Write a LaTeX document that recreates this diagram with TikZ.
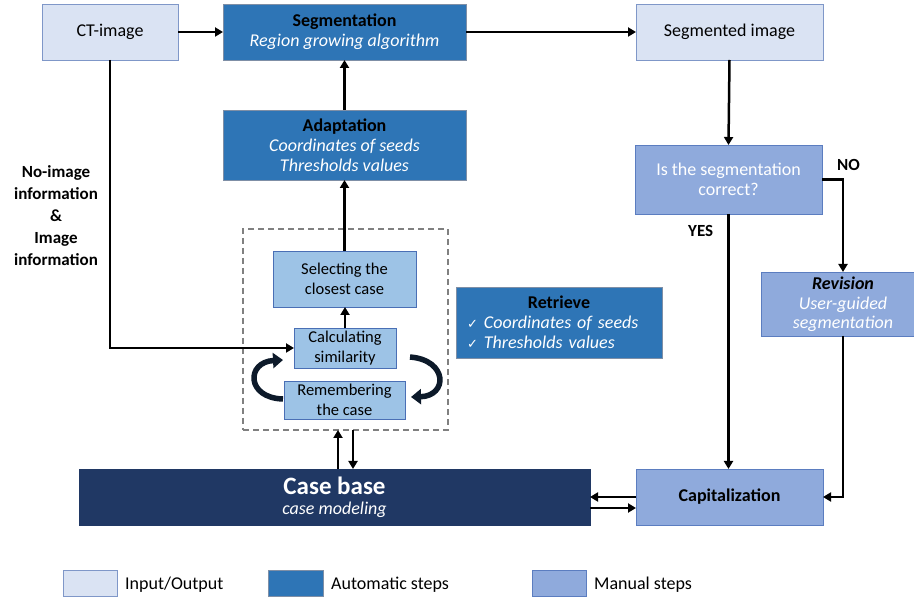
\documentclass[tikz,border=0pt]{standalone}
\usepackage{fontspec}
\setmainfont{Carlito}
\newfontfamily\symfont{DejaVu Sans}
\usetikzlibrary{arrows.meta}
\definecolor{iofill}{HTML}{DAE3F3}
\definecolor{iodraw}{HTML}{7F97C8}
\definecolor{autofill}{HTML}{2E75B6}
\definecolor{autodraw}{HTML}{7F8FA6}
\definecolor{manfill}{HTML}{8FAADC}
\definecolor{mandraw}{HTML}{5B7DC0}
\definecolor{innerfill}{HTML}{9DC3E6}
\definecolor{innerdraw}{HTML}{4A6FB5}
\definecolor{cbfill}{HTML}{203864}
\definecolor{curvecol}{HTML}{0D1A2A}
\tikzset{
  box/.style={rectangle, inner sep=0pt, outer sep=0pt, line width=0.9pt, align=center,
    font=\fontsize{18}{20}\selectfont},
  iobox/.style={box, fill=iofill, draw=iodraw},
  autobox/.style={box, fill=autofill, draw=autodraw},
  manbox/.style={box, fill=manfill, draw=mandraw},
  innerbox/.style={box, fill=innerfill, draw=innerdraw, font=\fontsize{16.5}{19.5}\selectfont},
  arr/.style={line width=2.5pt, -{Triangle[length=8pt,width=9pt]}},
  curv/.style={line width=5.5pt, color=curvecol, -{Triangle[length=10pt,width=15pt]}},
  lbl/.style={font=\fontsize{17}{22}\selectfont\bfseries, align=center, inner sep=0pt},
  legtext/.style={font=\fontsize{18}{20}\selectfont, anchor=west, inner sep=0pt}
}
\begin{document}
\begin{tikzpicture}[x=1pt,y=-1pt]
\useasboundingbox (0,0) rectangle (914,601);
% main nodes
\node[iobox, minimum width=136pt, minimum height=56pt] (ct) at (110,32) {CT-image};
\node[autobox, minimum width=243pt, minimum height=56pt] (seg) at (344.5,32)
  {\textbf{Segmentation}\\\textcolor{white}{\itshape Region growing algorithm}};
\node[iobox, minimum width=187pt, minimum height=56pt] (segd) at (729.5,32) {Segmented image};
\node[autobox, minimum width=243pt, minimum height=70pt] (adapt) at (344.5,145)
  {\textbf{Adaptation}\\\textcolor{white}{\itshape Coordinates of seeds}\\\textcolor{white}{\itshape Thresholds values}};
\node[manbox, minimum width=187pt, minimum height=69pt, text=white] (corr) at (728.5,179.5)
  {Is the segmentation\\correct?};
\node[manbox, minimum width=164pt, minimum height=64pt] (rev) at (843,304)
  {\textbf{\itshape Revision}\\\textcolor{white}{\itshape User-guided}\\[-1pt]\textcolor{white}{\itshape segmentation}};
\node[autobox, minimum width=206pt, minimum height=71pt, text width=184pt, align=left] (retr) at (559,322.5)
  {\makebox[\linewidth]{\textbf{Retrieve}}\\
   \textcolor{white}{{\symfont\fontsize{13}{20}\selectfont ✓}\hspace{6pt}\itshape Coordinates of seeds}\\
   \textcolor{white}{{\symfont\fontsize{13}{20}\selectfont ✓}\hspace{6pt}\itshape Thresholds values}};
\node[rectangle, draw=gray, line width=1.4pt, dash pattern=on 6pt off 4pt,
  minimum width=205pt, minimum height=201pt, inner sep=0pt, outer sep=0pt] (dash) at (345.5,329.5) {};
\node[innerbox, minimum width=143pt, minimum height=56pt] (sel) at (344.5,279) {Selecting the\\closest case};
\node[innerbox, minimum width=102pt, minimum height=40pt] (calc) at (345,348) {Calculating\\similarity};
\node[innerbox, minimum width=121pt, minimum height=38pt] (rem) at (344.5,400) {Remembering\\the case};
\node[box, fill=cbfill, draw=cbfill, minimum width=511pt, minimum height=56pt, text=white] (cb) at (334.5,497)
  {{\fontsize{25}{26}\selectfont\bfseries Case base}\\{\itshape case modeling}};
\node[manbox, minimum width=187pt, minimum height=56pt] (cap) at (729.5,497) {\textbf{Capitalization}};
% labels
\node[lbl] (info) at (56,216) {No-image\\information\\\&\\Image\\information};
\node[lbl, anchor=west] (no) at (837,165) {NO};
\node[lbl, anchor=west] (yes) at (688,231) {YES};
% legend
\node[iobox, minimum width=54pt, minimum height=26pt] (lio) at (90,583) {};
\node[legtext] (lioT) at (125,585) {Input/Output};
\node[autobox, minimum width=55pt, minimum height=26pt] (lauto) at (295.5,583) {};
\node[legtext] (lautoT) at (331,585) {Automatic steps};
\node[manbox, minimum width=54pt, minimum height=26pt] (lman) at (559,583) {};
\node[legtext] (lmanT) at (594,585) {Manual steps};
% connectors
\draw[arr] (ct.east) -- (seg.west);
\draw[arr] (seg.east) -- (segd.west);
\draw[arr] (segd.south) -- (corr.north);
\draw[arr] (corr.east) -| (rev.north);
\draw[arr] (corr.south) -- (corr.south |- cap.north);
\draw[arr] (rev.south) |- (cap.east);
\draw[arr] (cap.west) -- (cap.west -| cb.east);
\draw[arr] ([yshift=-11pt]cb.east) -- ([yshift=-11pt]cb.east -| cap.west);
\draw[arr] ([xshift=3.5pt]cb.north) -- ([xshift=3.5pt]cb.north |- dash.south);
\draw[arr] ([xshift=18.5pt]cb.north |- dash.south) -- ([xshift=18.5pt]cb.north);
\draw[arr] (ct.south) |- (calc.west);
\draw[arr] (calc.north) -- (calc.north |- sel.south);
\draw[arr] (sel.north) -- (sel.north |- adapt.south);
\draw[arr] (adapt.north) -- (adapt.north |- seg.south);
% curved arrows
\draw[curv] (283,399) .. controls (246,398) and (246,362) .. (283,360);
\draw[curv] (410,357) .. controls (448,360) and (448,396) .. (411,397);
\end{tikzpicture}
\end{document}
